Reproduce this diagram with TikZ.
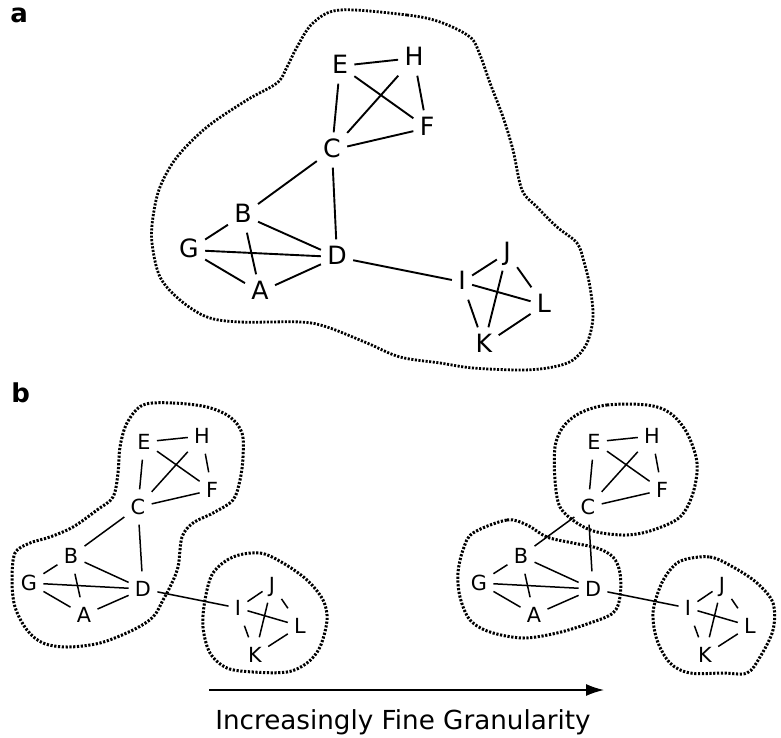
\documentclass[tikz,border=0pt]{standalone}
\usepackage{fontspec}
\setmainfont{DejaVu Sans}
\usetikzlibrary{arrows.meta}
\newcommand\graphedges[2]{%
  \foreach \u/\w in {E/H,E/F,E/C,H/C,H/F,C/F,C/B,C/D,B/G,B/D,B/A,G/D,G/A,A/D,D/I,I/J,I/L,I/K,J/K,J/L,K/L}
    \draw[#2] (#1\u) -- (#1\w);%
}
\begin{document}
\begin{tikzpicture}[x=0.5pt,y=-0.5pt,
  v/.style={inner xsep=0.3em, inner ysep=0.5em, text height=0.73em, text depth=0pt},
  vbig/.style={v, font=\fontsize{12.6}{14}\selectfont},
  vsmall/.style={v, font=\fontsize{10.4}{12}\selectfont},
  edgebig/.style={line width=0.95pt},
  edgesmall/.style={line width=0.75pt},
  blob/.style={line width=1.4pt, dash pattern=on 1.05pt off 0.75pt},
  blobsmall/.style={line width=1.5pt, dash pattern=on 1.1pt off 0.8pt},
  panel/.style={font=\bfseries\fontsize{13}{15}\selectfont, anchor=base west, inner sep=0pt}]
\useasboundingbox (0,0) rectangle (781,738);

% panel labels
\node[panel] (pa) at (10,23) {a};
\node[panel] (pb) at (11,402) {b};

% ---------- panel a ----------
\foreach \n/\x/\y in {E/340/66, H/414/58, F/427/128, C/332/150, B/243/215, G/189/250,
  D/337/257, A/260/292, J/507/253, I/462/282, L/544/305, K/484/345}
  \node[vbig] (t\n) at (\x,\y) {\n};
\graphedges{t}{edgebig}
\draw[blob] plot[smooth cycle, tension=0.55] coordinates {
  (340,10) (407,15) (440,22) (470,37) (480,55) (490,83) (503,117) (513,150) (522,190)
  (537,207) (557,227) (577,243) (584,262) (590,287) (593,317) (587,343) (573,360)
  (553,367) (523,370) (473,368) (440,363) (400,357) (367,343) (327,327) (300,322)
  (240,322) (207,317) (180,300) (160,277) (152,243) (153,217) (160,187) (177,157)
  (207,127) (247,100) (277,83) (287,67) (297,47) (313,23)};

% ---------- panel b, left ----------
\foreach \n/\x/\y in {E/144/442, H/202/436, F/212/490, C/138/507, B/71/556, G/29/583,
  D/143/589, A/84/615, J/272/585, I/238/608, L/300/626, K/255/655}
  \node[vsmall] (l\n) at (\x,\y) {\n};
\graphedges{l}{edgesmall}
\draw[blobsmall] plot[smooth cycle, tension=0.55] coordinates {
  (143,405) (173,403) (207,407) (230,417) (242,433) (243,457) (240,480) (233,500)
  (213,513) (193,523) (182,537) (178,567) (170,587) (163,600) (153,617) (133,630)
  (100,643) (67,647) (43,643) (27,630) (15,607) (12,580) (15,553) (30,543) (50,537)
  (73,527) (97,510) (113,497) (118,473) (120,447) (127,423)};
\draw[blobsmall] plot[smooth cycle, tension=0.55] coordinates {
  (233,557) (260,553) (283,563) (307,580) (323,600) (327,620) (320,647) (307,663)
  (287,672) (253,672) (227,668) (210,653) (203,627) (205,600) (213,573)};

% ---------- panel b, right ----------
\foreach \n/\x/\y in {E/594/442, H/652/436, F/662/490, C/588/507, B/521/556, G/479/583,
  D/593/589, A/534/615, J/722/585, I/688/608, L/750/626, K/705/655}
  \node[vsmall] (r\n) at (\x,\y) {\n};
\graphedges{r}{edgesmall}
\draw[blobsmall] plot[smooth cycle, tension=0.55] coordinates {
  (580,413) (607,405) (647,405) (670,413) (687,433) (697,463) (693,493) (680,517)
  (653,530) (627,535) (597,532) (577,523) (560,507) (555,480) (555,447) (563,427)};
\draw[blobsmall] plot[smooth cycle, tension=0.55] coordinates {
  (473,533) (507,520) (527,525) (547,537) (573,543) (597,548) (613,557) (620,573)
  (620,597) (613,613) (590,623) (557,633) (523,638) (490,632) (470,620) (460,597)
  (458,573) (463,550)};
\draw[blobsmall] plot[smooth cycle, tension=0.55] coordinates {
  (683,560) (710,557) (733,567) (757,583) (773,603) (773,630) (760,657) (747,673)
  (723,673) (690,673) (670,663) (657,640) (653,613) (660,587) (670,570)};

% ---------- arrow ----------
\coordinate (as) at (209,690);
\coordinate (ae) at (604,690);
\draw[line width=0.75pt, -{Latex[length=9pt,width=6pt]}] (as) -- (ae);
\node[font=\fontsize{13.1}{15}\selectfont, inner sep=0pt] (cap) at (403,722) {Increasingly Fine Granularity};
\end{tikzpicture}
\end{document}
